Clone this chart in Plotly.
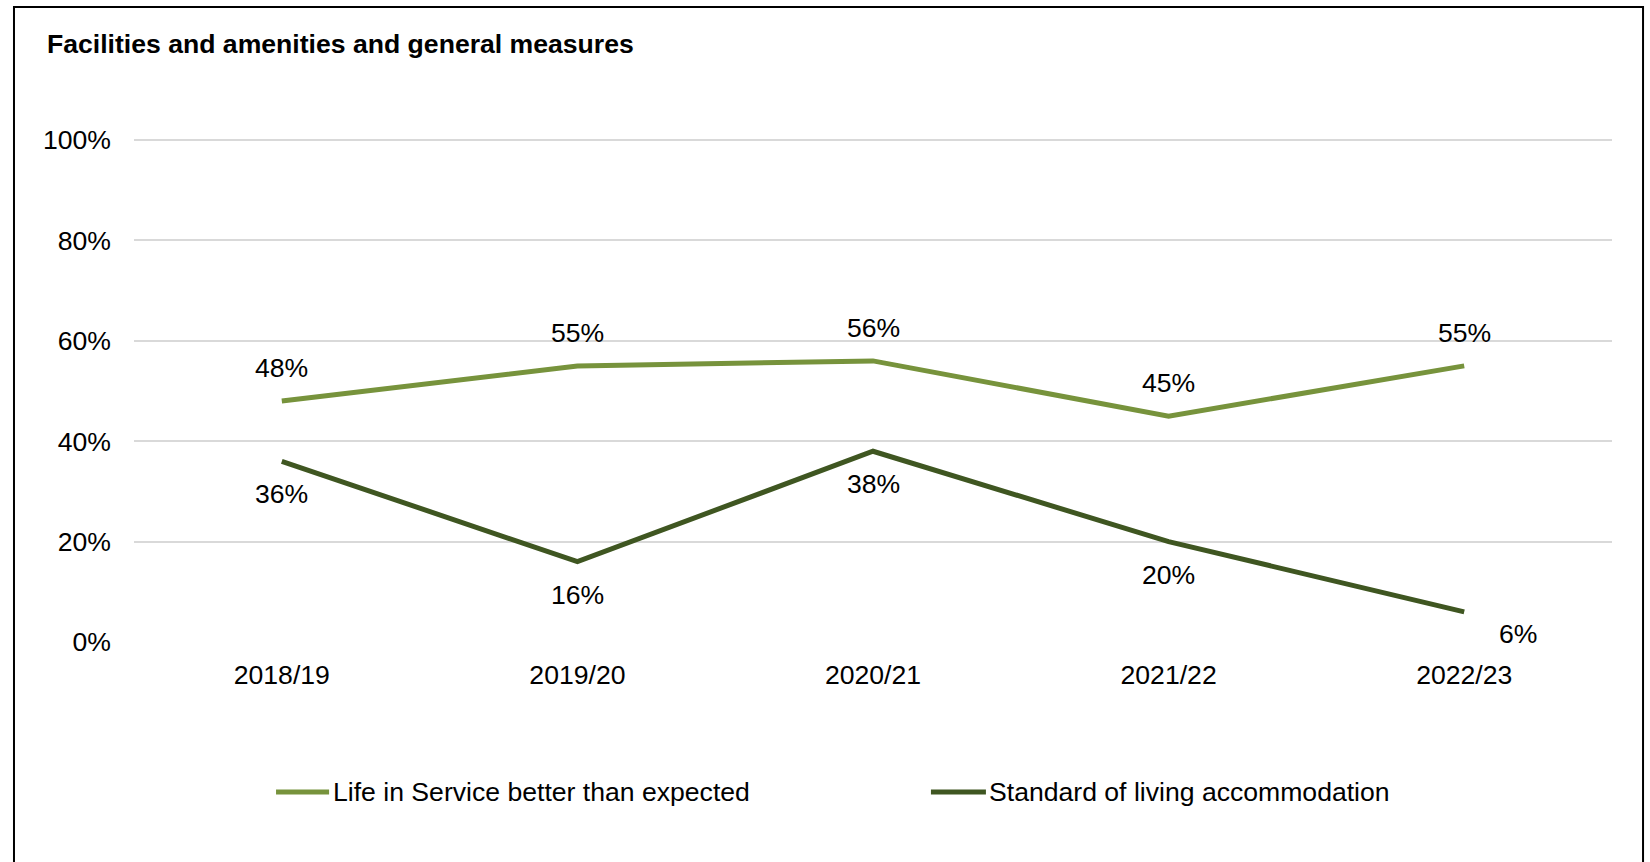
import plotly.graph_objects as go

# Survey years and results (% of respondents)
years = ["2018/19", "2019/20", "2020/21", "2021/22", "2022/23"]
life_in_service = [48, 55, 56, 45, 55]
living_accommodation = [36, 16, 38, 20, 6]

series_names = ["Life in Service better than expected", "Standard of living accommodation"]
series_colors = ["#77933C", "#3F5621"]

title_text = "Facilities and amenities and general measures"
y_ticks = [0, 20, 40, 60, 80, 100]
y_tick_labels = [f"{t}%" for t in y_ticks]

FONT = "Liberation Sans, Arial, sans-serif"
FS = 26.6

fig = go.Figure()

for name, vals, color in zip(series_names, [life_in_service, living_accommodation], series_colors):
    fig.add_trace(go.Scatter(
        x=years, y=vals, name=name, mode="lines",
        line=dict(color=color, width=5),
        showlegend=False, hoverinfo="x+y+name",
    ))

annotations = []
# Value labels: upper series above its points, lower series below
for x, v in zip(years, life_in_service):
    annotations.append(dict(x=x, y=v, xref="x", yref="y", text=f"{v}%", showarrow=False,
                            yshift=33, font=dict(family=FONT, size=FS, color="#000000")))
for i, (x, v) in enumerate(zip(years, living_accommodation)):
    last = i == len(years) - 1
    annotations.append(dict(x=x, y=v, xref="x", yref="y", text=f"{v}%", showarrow=False,
                            yshift=-22 if last else -33, xshift=54 if last else 0,
                            font=dict(family=FONT, size=FS, color="#000000")))

# Legend drawn beneath the plot: a short swatch line followed by the series name
plot_top, plot_bottom = 138, 642
ph = plot_bottom - plot_top
legend_y = (plot_bottom - 792) / ph
legend_items = [(0.0961, 0.1320, 0.1333), (0.5392, 0.5764, 0.5772)]
shapes = []
for (x0, x1, xt), name, color in zip(legend_items, series_names, series_colors):
    shapes.append(dict(type="line", xref="paper", yref="paper", x0=x0, x1=x1,
                       y0=legend_y, y1=legend_y, line=dict(color=color, width=5)))
    annotations.append(dict(x=xt, y=legend_y, xref="paper", yref="paper", text=name,
                            showarrow=False, xanchor="left", yanchor="middle",
                            font=dict(family=FONT, size=FS, color="#000000")))

# Outer frame around the chart
shapes.append(dict(type="rect", xref="paper", yref="paper",
                   x0=-0.0812, x1=1.0210,
                   y0=(plot_bottom - 875) / ph, y1=(plot_bottom - 7) / ph,
                   line=dict(color="#000000", width=2), fillcolor="rgba(0,0,0,0)", layer="below"))

fig.update_layout(
    width=1650, height=862,
    margin=dict(l=134, r=38, t=plot_top, b=862 - plot_bottom),
    paper_bgcolor="#FFFFFF", plot_bgcolor="#FFFFFF",
    font=dict(family=FONT, size=FS, color="#000000"),
    title=dict(text=f"<b>{title_text}</b>", x=47 / 1650, xref="container", xanchor="left",
               y=1 - 44 / 862, yref="container", yanchor="middle",
               font=dict(family=FONT, size=FS, color="#000000")),
    xaxis=dict(showgrid=False, showline=False, zeroline=False, ticks="",
               range=[-0.5, 4.5], tickfont=dict(family=FONT, size=FS), ticklabelstandoff=14),
    yaxis=dict(range=[0, 100.4], tickvals=y_ticks, ticktext=y_tick_labels, showgrid=True,
               gridcolor="#D9D9D9", gridwidth=1.5, zeroline=False, showline=False, ticks="",
               tickfont=dict(family=FONT, size=FS), ticklabelstandoff=22),
    annotations=annotations,
    shapes=shapes,
    showlegend=False,
)

fig.write_html("out.html")
